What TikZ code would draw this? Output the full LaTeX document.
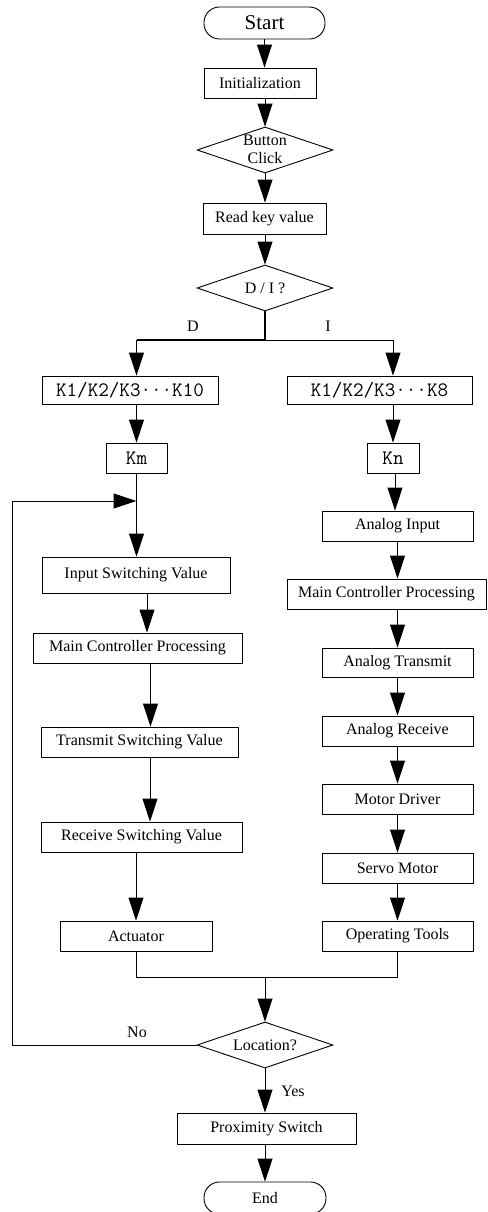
\documentclass[tikz,border=0pt]{standalone}
\usepackage{fontspec}
\setmainfont{Liberation Serif}
\usetikzlibrary{arrows.meta,shapes.geometric}
\begin{document}
\begin{tikzpicture}[x=1pt,y=-1pt,
  every node/.style={font=\fontsize{16pt}{18pt}\selectfont, inner sep=0pt},
  box/.style={draw, line width=0.9pt, rectangle},
  term/.style={draw, line width=0.9pt, rectangle, rounded corners=15.5pt},
  dia/.style={draw, line width=0.9pt, diamond},
  ktext/.style={font=\ttfamily\fontsize{20.5pt}{22pt}\selectfont},
  arr/.style={-{Triangle[length=23pt,width=15pt]}, line width=1pt},
  ln/.style={line width=1pt},
  thickln/.style={line width=1.8pt}
]
\useasboundingbox (0,0) rectangle (487,1212);
% top chain
\node[term, minimum width=121pt, minimum height=32pt, font=\fontsize{21pt}{24pt}\selectfont] (start) at (264.5,23) {Start};
\node[box, minimum width=112pt, minimum height=30pt] (init) at (260,83) {Initialization};
\node[dia, minimum width=136pt, minimum height=46pt] (btn) at (265,150) {};
\node[align=center, font=\fontsize{16pt}{18pt}\selectfont] (btnt) at (265,149) {Button\\Click};
\node[box, minimum width=123pt, minimum height=31pt] (read) at (264.5,218.5) {Read key value};
\node[dia, minimum width=136pt, minimum height=46pt] (di) at (265,288) {};
\node (dit) at (265,288) {D / I ?};
\node (lD) at (193,326) {D};
\node (lI) at (328,326) {I};
% K boxes
\node[box, minimum width=176pt, minimum height=28pt, ktext] (k10) at (130,390) {K1/K2/K3\char"00B7\char"00B7\char"00B7K10};
\node[box, minimum width=185pt, minimum height=28pt, ktext] (k8) at (379.5,390) {K1/K2/K3\char"00B7\char"00B7\char"00B7K8};
\node[box, minimum width=61pt, minimum height=30pt, ktext] (km) at (136.5,458) {Km};
\node[box, minimum width=52pt, minimum height=30pt, ktext] (kn) at (393,458) {Kn};
% left column
\node[box, minimum width=188pt, minimum height=36pt] (isv) at (136,575) {Input Switching Value};
\node[box, minimum width=209pt, minimum height=30pt] (mcpL) at (137.5,648) {Main Controller Processing};
\node[box, minimum width=197pt, minimum height=30pt] (tsv) at (139.5,742) {Transmit Switching Value};
\node[box, minimum width=201pt, minimum height=30pt] (rsv) at (141.5,837) {Receive Switching Value};
\node[box, minimum width=152pt, minimum height=30pt] (act) at (136,936) {Actuator};
% right column
\node[box, minimum width=151pt, minimum height=30pt] (ai) at (397.5,526) {Analog Input};
\node[box, minimum width=199pt, minimum height=30pt] (mcpR) at (386.5,594) {Main Controller Processing};
\node[box, minimum width=151pt, minimum height=29pt] (at) at (397.5,662.5) {Analog Transmit};
\node[box, minimum width=151pt, minimum height=30pt] (ar) at (397.5,731) {Analog Receive};
\node[box, minimum width=151pt, minimum height=30pt] (md) at (397.5,799) {Motor Driver};
\node[box, minimum width=151pt, minimum height=30pt] (sm) at (397.5,868) {Servo Motor};
\node[box, minimum width=151pt, minimum height=30pt] (ot) at (397.5,936) {Operating Tools};
% bottom
\node[dia, minimum width=136pt, minimum height=46pt] (loc) at (265,1045) {};
\node (loct) at (265,1045) {Location?};
\node (lNo) at (137,1032) {No};
\node (lYes) at (293,1091) {Yes};
\node[box, minimum width=179pt, minimum height=31pt] (prox) at (266.5,1128.5) {Proximity Switch};
\node[term, minimum width=122pt, minimum height=32pt] (end) at (265,1198) {End};
% coordinates
\coordinate (sp) at (265,340);
\coordinate (mj) at (265,977);
\coordinate (nl) at (12,1045);
\coordinate (nu) at (12,501);
% connectors top
\draw[arr] (start.south) -- (start.south |- init.north);
\draw[arr] (btn.north |- init.south) -- (btn.north);
\draw[arr] (btn.south) -- (btn.south |- read.north);
\draw[arr] (read.south -| di.north) -- (di.north);
\draw[thickln] (di.south) -- (sp) -- (sp -| km.north);
\draw[ln] (sp) -- (sp -| kn.north);
\draw[arr] (sp -| km.north) -- (km.north |- k10.north);
\draw[arr] (sp -| kn.north) -- (kn.north |- k8.north);
\draw[arr] (km.north |- k10.south) -- (km.north);
\draw[arr] (kn.north |- k8.south) -- (kn.north);
% left column connectors
\draw[arr] (km.south) -- (km.south |- isv.north);
\draw[arr] ([xshift=11pt]isv.south) -- ([xshift=11pt]isv.south |- mcpL.north);
\draw[arr] ([xshift=13pt]mcpL.south) -- ([xshift=13pt]mcpL.south |- tsv.north);
\draw[arr] ([xshift=10.5pt]tsv.south) -- ([xshift=10.5pt]tsv.south |- rsv.north);
\draw[arr] (act.north |- rsv.south) -- (act.north);
% right column connectors
\draw[arr] ([xshift=2pt]kn.south) -- ([xshift=2pt]kn.south |- ai.north);
\draw[arr] (ai.south) -- (ai.south |- mcpR.north);
\draw[arr] (at.north |- mcpR.south) -- (at.north);
\draw[arr] (at.south) -- (ar.north);
\draw[arr] (ar.south) -- (md.north);
\draw[arr] (md.south) -- (sm.north);
\draw[arr] (sm.south) -- (ot.north);
% merge
\draw[ln] (act.south) -- (act.south |- mj) -- (ot.south |- mj) -- (ot.south);
\draw[arr] (mj) -- (loc.north);
% feedback
\draw[arr] (loc.west) -- (nl) -- (nu) -- (nu -| km.south);
% bottom
\draw[arr] (loc.south) -- (loc.south |- prox.north);
\draw[arr] (prox.south -| end.north) -- (end.north);
\end{tikzpicture}
\end{document}
